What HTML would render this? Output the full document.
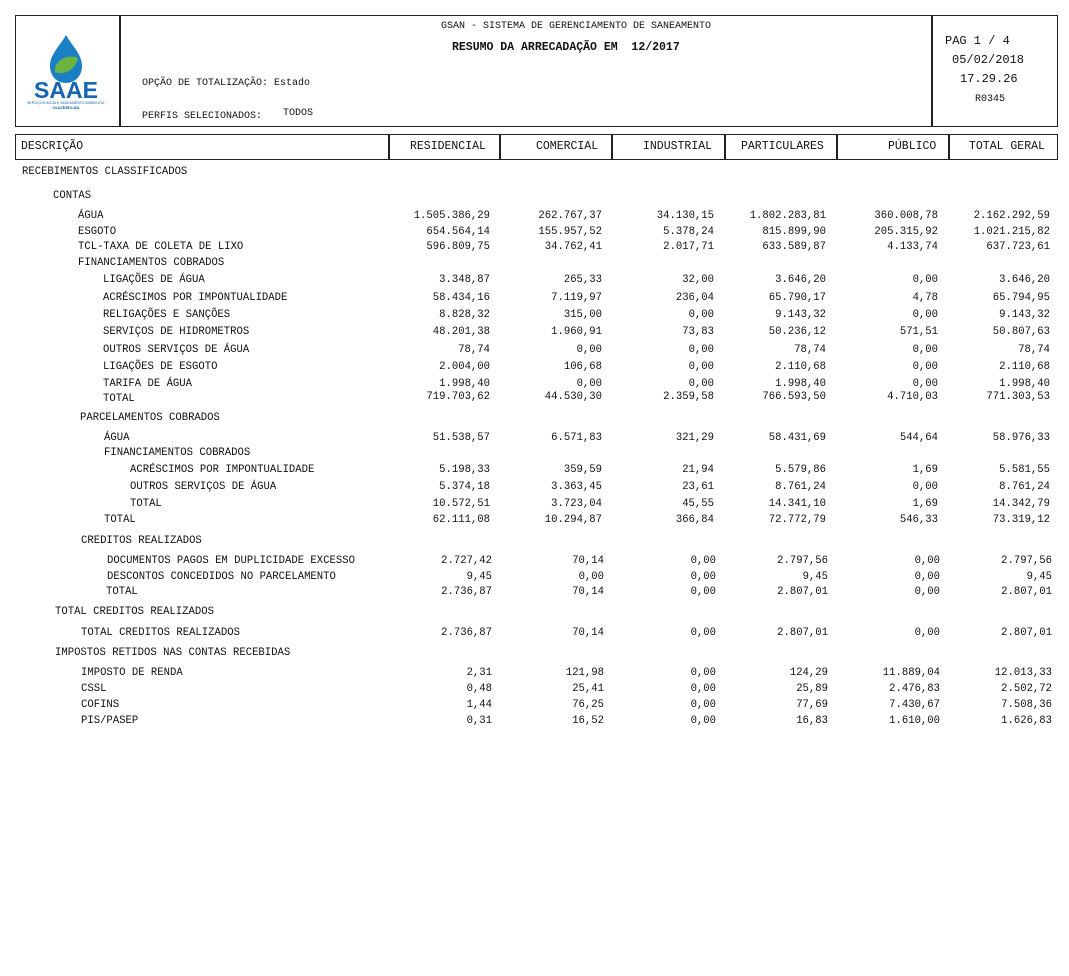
<!DOCTYPE html>
<html><head><meta charset="utf-8">
<style>
body{margin:0;width:1069px;height:976px;background:#fff;position:relative;font-family:"Liberation Mono","Courier New",monospace;color:#111;overflow:hidden}
.b{position:absolute;border:1.5px solid #222;box-sizing:border-box}
.v{position:absolute;width:1.5px;background:#222}
.t{position:absolute;white-space:pre;font-size:10.6px;line-height:12px}
.r{position:absolute;white-space:pre;font-size:10.6px;line-height:12px;text-align:right;width:120px}
</style></head><body>
<div class="b" style="left:15px;top:15px;width:1043px;height:112px"></div>
<div class="v" style="left:119px;top:15px;height:112px"></div>
<div class="v" style="left:931px;top:15px;height:112px"></div>
<svg style="position:absolute;left:20px;top:32px" width="92" height="80" viewBox="0 0 92 80">
<path d="M46 3 C40 14 30 22 30 34 C30 44 37 51 46 51 C55 51 62 44 62 34 C62 22 52 14 46 3Z" fill="#1a7fc4"/>
<path d="M35 36 C38 26 50 22 58 26 C56 36 46 44 35 40Z" fill="#6cb33f"/>
<text x="46" y="66" text-anchor="middle" font-family="Liberation Sans" font-weight="bold" font-size="23" fill="#1565b0">SAAE</text>
<text x="46" y="72" text-anchor="middle" font-family="Liberation Sans" font-size="3.5" fill="#1565b0">SERVIÇOS ÁGUA E SANEAMENTO AMBIENTAL</text>
<text x="46" y="77" text-anchor="middle" font-family="Liberation Sans" font-weight="bold" font-size="4" fill="#1565b0">JUAZEIRO-BA</text>
</svg>
<div class="t" style="left:441px;top:21px;font-size:10px">GSAN - SISTEMA DE GERENCIAMENTO DE SANEAMENTO</div>
<div class="t" style="left:452px;top:42px;font-size:11.5px;font-weight:bold">RESUMO DA ARRECADAÇÃO EM  12/2017</div>
<div class="t" style="left:142px;top:78px;font-size:10px">OPÇÃO DE TOTALIZAÇÃO: Estado</div>
<div class="t" style="left:142px;top:111px;font-size:10px">PERFIS SELECIONADOS:</div>
<div class="t" style="left:283px;top:108px;font-size:10px">TODOS</div>
<div class="t" style="left:945px;top:35px;font-size:12px">PAG 1 / 4</div>
<div class="t" style="left:952px;top:54px;font-size:12px">05/02/2018</div>
<div class="t" style="left:960px;top:73px;font-size:12px">17.29.26</div>
<div class="t" style="left:975px;top:94px;font-size:10px">R0345</div>

<div class="b" style="left:15px;top:134px;width:1043px;height:26px"></div>
<div class="v" style="left:388px;top:134px;height:26px"></div>
<div class="v" style="left:499px;top:134px;height:26px"></div>
<div class="v" style="left:611px;top:134px;height:26px"></div>
<div class="v" style="left:724px;top:134px;height:26px"></div>
<div class="v" style="left:836px;top:134px;height:26px"></div>
<div class="v" style="left:948px;top:134px;height:26px"></div>
<div class="t" style="left:21px;top:141px;font-size:11.5px">DESCRIÇÃO</div>
<div class="t" style="left:410px;top:141px;font-size:11.5px">RESIDENCIAL</div>
<div class="t" style="left:536px;top:141px;font-size:11.5px">COMERCIAL</div>
<div class="t" style="left:643px;top:141px;font-size:11.5px">INDUSTRIAL</div>
<div class="t" style="left:741px;top:141px;font-size:11.5px">PARTICULARES</div>
<div class="t" style="left:888px;top:141px;font-size:11.5px">PÚBLICO</div>
<div class="t" style="left:969px;top:141px;font-size:11.5px">TOTAL GERAL</div>

<div id="rows"></div>
<script>
const R=[
[171,22,"RECEBIMENTOS CLASSIFICADOS"],
[195,53,"CONTAS"],
[215,78,"ÁGUA",["1.505.386,29","262.767,37","34.130,15","1.802.283,81","360.008,78","2.162.292,59"]],
[231,78,"ESGOTO",["654.564,14","155.957,52","5.378,24","815.899,90","205.315,92","1.021.215,82"]],
[246,78,"TCL-TAXA DE COLETA DE LIXO",["596.809,75","34.762,41","2.017,71","633.589,87","4.133,74","637.723,61"]],
[262,78,"FINANCIAMENTOS COBRADOS"],
[279,103,"LIGAÇÕES DE ÁGUA",["3.348,87","265,33","32,00","3.646,20","0,00","3.646,20"]],
[297,103,"ACRÉSCIMOS POR IMPONTUALIDADE",["58.434,16","7.119,97","236,04","65.790,17","4,78","65.794,95"]],
[314,103,"RELIGAÇÕES E SANÇÕES",["8.828,32","315,00","0,00","9.143,32","0,00","9.143,32"]],
[331,103,"SERVIÇOS DE HIDROMETROS",["48.201,38","1.960,91","73,83","50.236,12","571,51","50.807,63"]],
[349,103,"OUTROS SERVIÇOS DE ÁGUA",["78,74","0,00","0,00","78,74","0,00","78,74"]],
[366,103,"LIGAÇÕES DE ESGOTO",["2.004,00","106,68","0,00","2.110,68","0,00","2.110,68"]],
[383,103,"TARIFA DE ÁGUA",["1.998,40","0,00","0,00","1.998,40","0,00","1.998,40"]],
[398,103,"TOTAL",["719.703,62","44.530,30","2.359,58","766.593,50","4.710,03","771.303,53"],0,-2],
[417,80,"PARCELAMENTOS COBRADOS"],
[437,104,"ÁGUA",["51.538,57","6.571,83","321,29","58.431,69","544,64","58.976,33"]],
[452,104,"FINANCIAMENTOS COBRADOS"],
[469,130,"ACRÉSCIMOS POR IMPONTUALIDADE",["5.198,33","359,59","21,94","5.579,86","1,69","5.581,55"]],
[486,130,"OUTROS SERVIÇOS DE ÁGUA",["5.374,18","3.363,45","23,61","8.761,24","0,00","8.761,24"]],
[503,130,"TOTAL",["10.572,51","3.723,04","45,55","14.341,10","1,69","14.342,79"]],
[519,104,"TOTAL",["62.111,08","10.294,87","366,84","72.772,79","546,33","73.319,12"]],
[540,81,"CREDITOS REALIZADOS"],
[560,107,"DOCUMENTOS PAGOS EM DUPLICIDADE EXCESSO",["2.727,42","70,14","0,00","2.797,56","0,00","2.797,56"],2],
[576,107,"DESCONTOS CONCEDIDOS NO PARCELAMENTO",["9,45","0,00","0,00","9,45","0,00","9,45"],2],
[591,106,"TOTAL",["2.736,87","70,14","0,00","2.807,01","0,00","2.807,01"],2],
[611,55,"TOTAL CREDITOS REALIZADOS"],
[632,81,"TOTAL CREDITOS REALIZADOS",["2.736,87","70,14","0,00","2.807,01","0,00","2.807,01"],2],
[652,55,"IMPOSTOS RETIDOS NAS CONTAS RECEBIDAS"],
[672,81,"IMPOSTO DE RENDA",["2,31","121,98","0,00","124,29","11.889,04","12.013,33"],2],
[688,81,"CSSL",["0,48","25,41","0,00","25,89","2.476,83","2.502,72"],2],
[704,81,"COFINS",["1,44","76,25","0,00","77,69","7.430,67","7.508,36"],2],
[720,81,"PIS/PASEP",["0,31","16,52","0,00","16,83","1.610,00","1.626,83"],2]
];
const E=[490,602,714,826,938,1050];
let h="";
for(const r of R){
 h+=`<div class="t" style="left:${r[1]}px;top:${r[0]-5}px">${r[2]}</div>`;
 if(r[3]){const s=r[4]||0,dy=r[5]||0;r[3].forEach((n,i)=>{h+=`<div class="r" style="left:${E[i]+s-120}px;top:${r[0]-5+dy}px">${n}</div>`;});}
}
document.getElementById("rows").innerHTML=h;
</script>
</body></html>
